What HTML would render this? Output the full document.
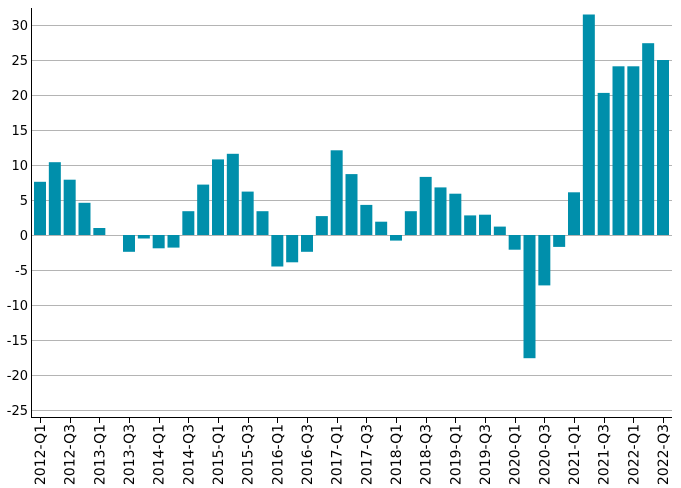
<!DOCTYPE html>
<html><head><meta charset="utf-8"><style>body{margin:0;background:#fff}svg{display:block}</style></head>
<body>
<svg width="681" height="488" xmlns="http://www.w3.org/2000/svg" font-family="DejaVu Sans, sans-serif" font-size="13">
<g id="grid" stroke="#b4b4b4" stroke-width="1"></g>
<g id="bars" fill="#008fab"></g>
<line x1="31.5" y1="8" x2="31.5" y2="418" stroke="#000"/>
<line x1="31" y1="417.5" x2="672" y2="417.5" stroke="#000"/>
<g id="yl" text-anchor="end" fill="#000"></g>
<g id="xl" fill="#000" font-size="14" text-anchor="end"></g>
</svg>
<script>
var ns="http://www.w3.org/2000/svg";
function el(t,a,p,txt){var e=document.createElementNS(ns,t);for(var k in a)e.setAttribute(k,a[k]);if(txt!=null)e.textContent=txt;document.getElementById(p).appendChild(e);}
function Y(v){return 235-7*v;}
for(var v=-25;v<=30;v+=5){var y=Y(v);el('line',{x1:31,x2:672,y1:y+0.5,y2:y+0.5},'grid');el('text',{x:28,y:y+5},'yl',String(v));}
var d=[7.6,10.4,7.9,4.6,1.0,0,-2.4,-0.5,-1.9,-1.8,3.4,7.2,10.8,11.6,6.2,3.4,-4.5,-3.9,-2.4,2.7,12.1,8.7,4.3,1.9,-0.8,3.4,8.3,6.8,5.9,2.8,2.9,1.2,-2.1,-17.6,-7.2,-1.7,6.1,31.5,20.3,24.1,24.1,27.4,25.0];
var sp=(663-40)/42;
for(var i=0;i<d.length;i++){var cx=40+i*sp,v=d[i];var y0=Math.min(Y(v),235),h=Math.abs(v)*7;
if(h>0)el('rect',{x:cx-6,y:y0,width:12,height:h},'bars');
if(i%2==0){var yr=2012+Math.floor(i/4),q=i%4+1;
el('line',{x1:Math.round(cx)+0.5,x2:Math.round(cx)+0.5,y1:418,y2:423,stroke:'#000'},'grid');
el('text',{transform:'translate('+(cx+5)+',424) rotate(-90)'},'xl',yr+'-Q'+q);}}
</script>
</body></html>
